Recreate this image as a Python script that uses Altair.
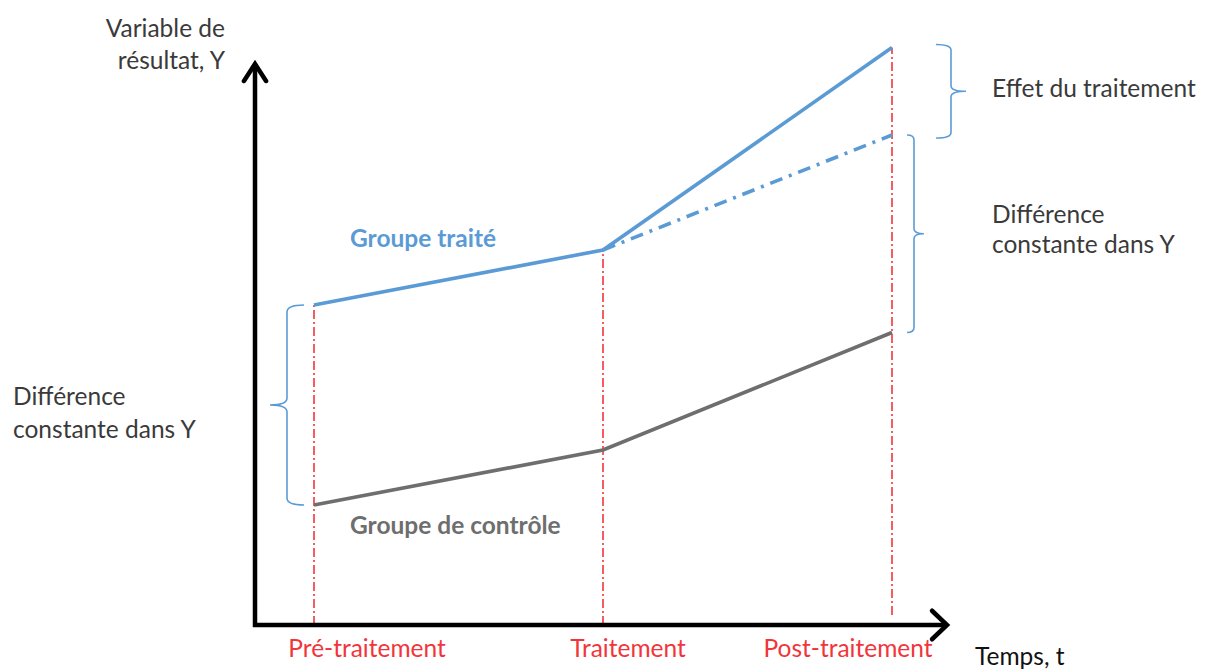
import altair as alt
import pandas as pd

# ---------------- data ----------------
periods = ["Pré-traitement", "Traitement", "Post-traitement"]
t_vals = [0, 1, 2]
treated = [6.4, 7.5, 11.55]          # Groupe traité
control = [2.4, 3.5, 5.85]           # Groupe de contrôle
cf_t = [1, 2]                        # contrefactuel (tendance parallèle)
counterfactual = [7.5, 9.8]

# ---------------- layout ----------------
W, H = 1194, 663
PAGE = 8
T0_PAGE_X = 314
PX_PER_T = 289
Y0_PAGE_Y = 625
PX_PER_Y = 50


def tx(px):
    return (px - T0_PAGE_X) / PX_PER_T


def yy(py):
    return (Y0_PAGE_Y - py) / PX_PER_Y


x_dom = [tx(PAGE), tx(PAGE + W)]
y_dom = [yy(PAGE + H), yy(PAGE)]
xs = alt.Scale(domain=x_dom, nice=False, zero=False)
ys = alt.Scale(domain=y_dom, nice=False, zero=False)


def X(f):
    return alt.X(f, type="quantitative", scale=xs, axis=None)


def Y(f):
    return alt.Y(f, type="quantitative", scale=ys, axis=None)


BLUE = "#5b9bd5"
GRAY = "#6e6e6e"
RED = "#f2353a"
TXT = "#3a3a3a"
FONT = "Lato"
FS = 24.5

# red dash-dot guides
ref_df = pd.DataFrame({"t": t_vals, "top": treated, "bottom": [0, 0, 0.2]})
guides = alt.Chart(ref_df).mark_rule(color=RED, strokeWidth=1.6, strokeDash=[9, 3, 2, 3]).encode(
    x=X("t"), y=Y("bottom"), y2=alt.Y2("top"))

# lines
tr_df = pd.DataFrame({"t": t_vals, "v": treated})
co_df = pd.DataFrame({"t": t_vals, "v": control})
cf_df = pd.DataFrame({"t": cf_t, "v": counterfactual})
l_tr = alt.Chart(tr_df).mark_line(color=BLUE, strokeWidth=3.6).encode(x=X("t"), y=Y("v"))
l_co = alt.Chart(co_df).mark_line(color=GRAY, strokeWidth=3.6).encode(x=X("t"), y=Y("v"))
l_cf = alt.Chart(cf_df).mark_line(color=BLUE, strokeWidth=3.6, strokeDash=[13, 7, 3, 7]).encode(
    x=X("t"), y=Y("v"))

# axes
xaxis_df = pd.DataFrame({"x1": [tx(253)], "x2": [tx(944)], "y": [0.0]})
yaxis_df = pd.DataFrame({"x": [tx(255)], "y1": [yy(627)], "y2": [yy(68)]})
ax_x = alt.Chart(xaxis_df).mark_rule(color="black", strokeWidth=4.5).encode(
    x=X("x1"), x2=alt.X2("x2"), y=Y("y"))
ax_y = alt.Chart(yaxis_df).mark_rule(color="black", strokeWidth=4.5).encode(
    x=X("x"), y=Y("y1"), y2=alt.Y2("y2"))
tipx_df = pd.DataFrame({"x": [tx(947)], "y": [0.0]})
tipy_df = pd.DataFrame({"x": [tx(255)], "y": [yy(64)]})
arr_x = alt.Chart(tipx_df).mark_point(shape="M -1 -0.95 L 0 0 L -1 0.95", size=900, filled=False,
                                      opacity=1, color="black", strokeWidth=4.5,
                                      strokeCap="round", strokeJoin="miter").encode(x=X("x"), y=Y("y"))
arr_y = alt.Chart(tipy_df).mark_point(shape="M -0.65 1 L 0 0 L 0.65 1", size=1156, filled=False,
                                      opacity=1, color="black", strokeWidth=4.5,
                                      strokeCap="round", strokeJoin="miter").encode(x=X("x"), y=Y("y"))


# braces
def brace(t, lo, hi, path, xoff, pad=0):
    span = (hi - lo) * PX_PER_Y + pad
    df = pd.DataFrame({"t": [t], "v": [(lo + hi) / 2]})
    return alt.Chart(df).mark_point(shape=path, size=span ** 2, filled=False, opacity=1,
                                    color=BLUE, strokeWidth=1.6, xOffset=xoff).encode(
        x=X("t"), y=Y("v"))


PATH_L = "M 0.17 -1 Q 0 -1 0 -0.93 L 0 -0.07 Q 0 0 -0.17 0 Q 0 0 0 0.07 L 0 0.93 Q 0 1 0.17 1"
PATH_R2 = "M -0.07 -1 Q 0 -1 0 -0.95 L 0 -0.05 Q 0 0 0.1 0 Q 0 0 0 0.05 L 0 0.95 Q 0 1 -0.07 1"
PATH_R1 = "M -0.32 -1 Q 0 -1 0 -0.88 L 0 -0.12 Q 0 0 0.32 0 Q 0 0 0 0.12 L 0 0.88 Q 0 1 -0.32 1"

b_left = brace(0, control[0], treated[0], PATH_L, -27)
b_r2 = brace(2, control[2], counterfactual[1], PATH_R2, 22)
b_r1 = brace(2, counterfactual[1], treated[2], PATH_R1, 59, pad=6)


# texts
def texts(rows, **kw):
    df = pd.DataFrame(rows, columns=["t", "v", "label"])
    return alt.Chart(df).mark_text(font=FONT, baseline="middle", **kw).encode(
        x=X("t"), y=Y("v"), text="label:N")


txt_yaxis = texts([[tx(225), yy(30), "Variable de"], [tx(225), yy(62), "résultat, Y"]],
                  align="right", fontSize=FS, color=TXT)
txt_periods = texts([[tx(367), yy(650), periods[0]], [tx(628), yy(650), periods[1]],
                     [tx(848), yy(650), periods[2]]], align="center", fontSize=FS, color=RED)
txt_time = texts([[tx(975), yy(658), "Temps, t"]], align="left", fontSize=FS, color="#111111")
txt_tr = texts([[tx(350), yy(240), "Groupe traité"]], align="left", fontSize=FS,
               fontWeight="bold", color=BLUE)
txt_co = texts([[tx(350), yy(527), "Groupe de contrôle"]], align="left", fontSize=FS,
               fontWeight="bold", color=GRAY)
txt_right = texts([[tx(992), yy(90), "Effet du traitement"],
                   [tx(992), yy(216), "Différence"],
                   [tx(992), yy(246), "constante dans Y"]], align="left", fontSize=FS, color=TXT)
txt_left = texts([[tx(13), yy(398), "Différence"],
                  [tx(13), yy(431), "constante dans Y"]], align="left", fontSize=FS, color=TXT)

chart = alt.layer(
    guides, b_left, b_r2, b_r1, l_co, l_cf, l_tr, ax_x, ax_y, arr_x, arr_y,
    txt_yaxis, txt_periods, txt_time, txt_tr, txt_co, txt_right, txt_left,
).properties(
    width=W, height=H, padding=0, autosize=alt.AutoSizeParams(type="none"), background="white"
).configure_view(stroke=None)

chart.save("out.html", embed_options={"renderer": "svg", "actions": False})
